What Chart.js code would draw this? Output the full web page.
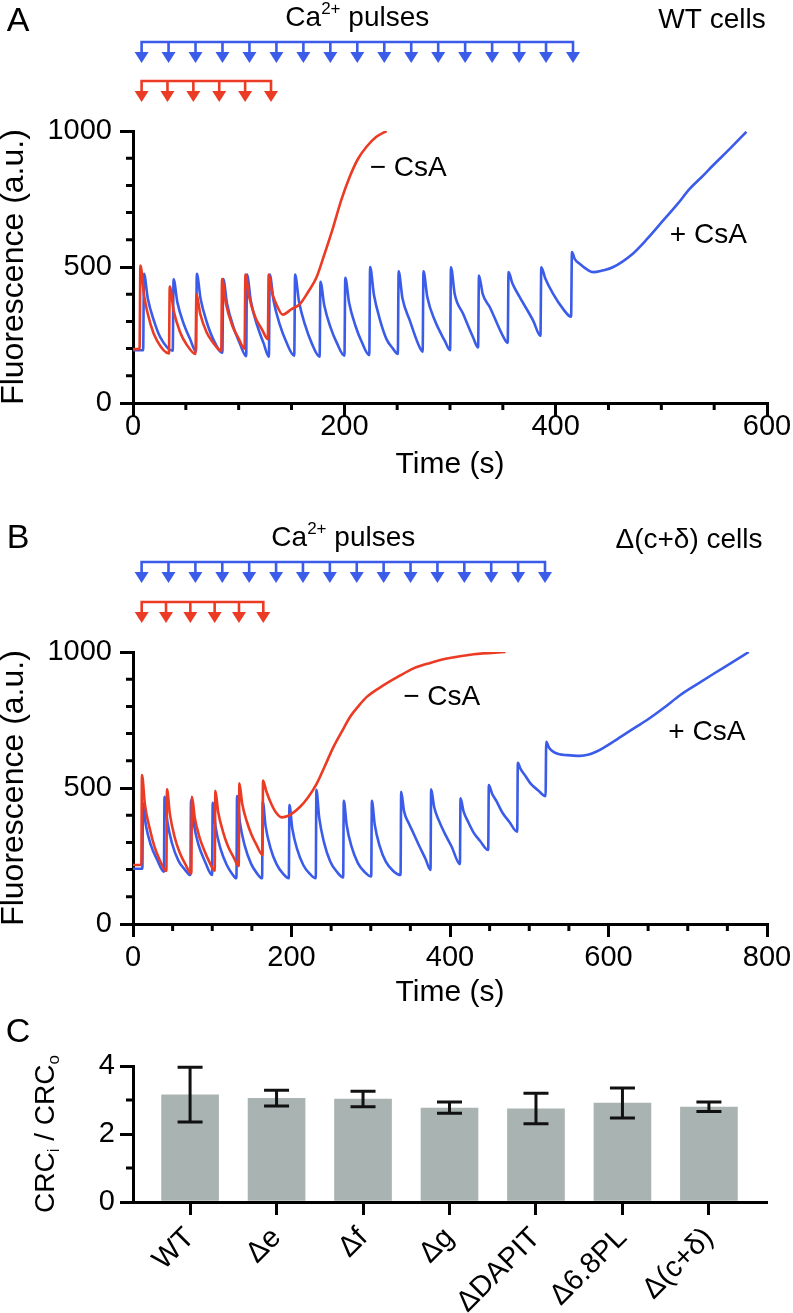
<!DOCTYPE html>
<html lang="en">
<head>
<meta charset="utf-8">
<title>Ca2+ retention capacity</title>
<script src="https://cdn.jsdelivr.net/npm/chart.js@4.4.1/dist/chart.umd.min.js"></script>
<style>
  html, body { margin: 0; padding: 0; background: #fff; }
  .panel { position: absolute; left: 0; width: 793px; }
  canvas { display: block; }
</style>
</head>
<body>
<div class="panel" style="top:0"><canvas id="chartA" width="793" height="480"></canvas></div>
<div class="panel" style="top:480px"><canvas id="chartB" width="793" height="530"></canvas></div>
<div class="panel" style="top:1010px"><canvas id="chartC" width="793" height="303"></canvas></div>
<script>
const FONT = '"Liberation Sans", Arial, Helvetica, sans-serif';
Chart.defaults.font.family = FONT;
Chart.defaults.color = '#000';

const BLUE = '#3b5ce9';
const RED = '#ec3b24';
const GRAY = '#a9b3b1';

// pulse times (s), one arrow per pulse
const wtPulsesPlus = [10, 38, 60, 85, 107.5, 129, 153, 177, 200.5, 224, 251, 274.5, 300.5, 327, 355, 386, 415];
const wtPulsesMinus = [6.6, 34.4, 59.6, 83.9, 106, 128];
const dcPulsesPlus = [12.2, 39.4, 72.8, 100.2, 130.9, 163.3, 197, 231, 265.6, 301, 338, 375.8, 412.9, 448.6, 485.2, 521];
const dcPulsesMinus = [10.9, 42.5, 74, 103.5, 133.8, 163.7];

// panel A, WT cells: [time (s), fluorescence (a.u.)]
const wtPlusCsA = [
  [0, 194], [9.6, 194], [10.4, 475], [14, 384], [20, 300], [26, 240], [37.6, 192],
  [38.4, 455], [42, 370], [48, 291], [54, 235], [59.6, 190],
  [60.4, 475], [64, 382], [70, 295], [76, 234], [84.6, 185],
  [85.4, 456], [89, 365], [95, 280], [101, 220], [107.1, 172],
  [107.9, 472], [111.5, 375], [117.5, 285], [123.5, 221], [128.6, 170],
  [129.4, 472], [133, 377], [139, 287], [145, 225], [152.6, 174],
  [153.4, 472], [157, 375], [163, 285], [169, 221], [176.6, 170],
  [177.4, 446], [181, 359], [187, 277], [193, 220], [200.1, 174],
  [200.9, 460], [204.5, 369], [210.5, 284], [216.5, 224], [223.6, 176],
  [224.4, 500], [228, 398], [234, 302], [240, 234], [246, 200], [250.6, 180],
  [251.4, 484], [255, 385], [262, 303], [270, 216], [274.1, 189],
  [274.9, 484], [278.5, 390], [285.7, 303], [295, 229], [300.1, 194],
  [300.9, 499], [304.5, 400], [312.5, 327], [322, 240], [326.6, 204],
  [327.4, 469], [331, 400], [337.7, 352], [350, 247], [354.6, 221],
  [355.4, 481], [359, 440], [366, 389], [378.7, 303], [385.6, 247],
  [386.4, 499], [390, 460], [397.6, 401], [407, 346], [414.6, 317],
  [415.4, 555], [418, 530], [423, 511], [430, 490], [435.5, 481], [445, 488], [454, 499],
  [473, 549], [487, 605], [502, 672], [515, 730], [527, 788], [538, 830], [549, 874],
  [565, 935], [580.5, 997]
];
const wtMinusCsA = [
  [0, 198], [6.2, 198], [7, 505], [10.6, 392], [16.6, 289], [22.6, 230], [34, 182],
  [34.8, 428], [38.4, 341], [44.4, 262], [50.4, 217], [59.2, 180],
  [60, 401], [63.6, 328], [69.6, 260], [75.6, 223], [83.5, 191],
  [84.3, 456], [87.9, 366], [93.9, 285], [99.9, 238], [105.6, 200],
  [106.4, 472], [110, 389], [116, 313], [122, 271], [127.6, 235],
  [128.4, 472], [132, 400], [136, 360], [141.6, 325], [150, 345], [158, 364], [166, 410],
  [173.7, 462], [181, 545], [189.5, 647], [197, 745], [205, 831], [213, 898], [221, 942],
  [230, 978], [240, 1000]
];

// panel B, Δ(c+δ) cells
const dcPlusCsA = [
  [0, 203], [11.8, 203], [12.6, 445], [16.2, 364], [22.2, 293], [30.2, 238], [39, 192],
  [39.8, 468], [43.4, 376], [49.4, 295], [57.4, 232], [65.4, 200], [72.4, 180],
  [73.2, 455], [76.8, 367], [82.8, 290], [90.8, 230], [99.8, 180],
  [100.6, 446], [104.2, 357], [110.2, 279], [118.2, 218], [125, 185], [130.5, 168],
  [131.3, 470], [134.9, 373], [140.9, 289], [148.9, 222], [156, 188], [162.9, 168],
  [163.7, 450], [167.3, 360], [173.3, 281], [181.3, 219], [189, 186], [196.6, 168],
  [197.4, 437], [201, 351], [207, 276], [215, 216], [223, 185], [230.6, 168],
  [231.4, 493], [235, 390], [241, 300], [249, 229], [257, 193], [265.2, 171],
  [266, 453], [269.6, 364], [275.6, 286], [283.6, 225], [292, 192], [300.6, 175],
  [301.4, 453], [305, 366], [311, 289], [319, 229], [328, 196], [337.6, 180],
  [338.4, 486], [342, 415], [348, 370], [354, 333], [362, 282], [369, 240], [375.4, 199],
  [376.2, 495], [380, 430], [386, 380], [393, 335], [402, 285], [412.5, 220],
  [413.3, 462], [417, 415], [423, 375], [430, 335], [438, 305], [448.2, 272],
  [449, 511], [453, 480], [459, 450], [466, 410], [475, 375], [484.8, 339],
  [485.6, 593], [489, 570], [495, 545], [502, 515], [511, 492], [520.6, 470],
  [521.4, 670], [525, 648], [531, 632], [538, 624], [547.6, 621], [556, 619], [564, 618],
  [574, 622], [585, 634], [595, 650], [606, 670], [627, 710], [648.6, 750], [670, 795],
  [690.7, 842], [712, 882], [732.7, 920], [755, 960], [777, 1000]
];
const dcMinusCsA = [
  [0, 217], [10.5, 217], [11.3, 548], [15, 440], [21.5, 346], [27, 285], [33, 240], [42.1, 195],
  [42.9, 495], [46.5, 405], [52.5, 320], [59, 262], [66, 220], [73.6, 186],
  [74.4, 468], [78, 390], [84, 318], [90, 270], [96, 230], [103.1, 196],
  [103.9, 490], [107.5, 412], [113.5, 340], [120, 285], [127, 245], [133.4, 213],
  [134.2, 517], [137.8, 442], [143.8, 375], [150, 325], [156, 290], [163.3, 254],
  [164.1, 527], [168, 490], [174, 445], [180, 412], [187.7, 392], [196, 398], [210.9, 431],
  [221, 466], [232, 517], [242, 580], [253, 651], [264, 710], [274, 762], [285, 803],
  [295, 835], [312, 870], [335, 910], [354, 940], [375, 960], [396, 976], [430, 992], [470, 1000]
];

// panel C
const strains = ['WT', 'Δe', 'Δf', 'Δg', 'ΔDAPIT', 'Δ6.8PL', 'Δ(c+δ)'];
const crcRatio = [3.15, 3.05, 3.03, 2.76, 2.74, 2.91, 2.79];
const crcLow = [2.35, 2.82, 2.80, 2.61, 2.30, 2.47, 2.66];
const crcHigh = [3.96, 3.29, 3.26, 2.94, 3.20, 3.35, 2.94];

// minor tick positions
const minorTimeA = [50, 100, 150, 250, 300, 350, 450, 500, 550];
const minorTimeB = [50, 100, 150, 250, 300, 350, 450, 500, 550, 650, 700, 750];
const minorFluo = [100, 200, 300, 400, 600, 700, 800, 900];
const minorRatio = [1, 3];

const toXY = pts => pts.map(([x, y]) => ({ x, y }));

const axisGrid = {
  drawOnChartArea: false,
  drawTicks: true,
  tickLength: 13,
  lineWidth: 3,
  tickWidth: 3,
  color: '#000',
  tickColor: '#000'
};
const axisBorder = { display: true, color: '#000', width: 3 };
const plainNumber = v => String(v);

function drawText(ctx, text, x, y, size, align) {
  ctx.font = `${size}px ${FONT}`;
  ctx.textAlign = align || 'left';
  ctx.textBaseline = 'middle';
  ctx.fillStyle = '#000';
  ctx.fillText(text, x, y);
}

// "Ca2+ pulses" with a raised charge
function drawPulsesTitle(ctx, cx, cy, size) {
  const big = `${size}px ${FONT}`;
  const small = `${Math.round(size * 0.6)}px ${FONT}`;
  ctx.font = big;
  const wCa = ctx.measureText('Ca').width;
  const wRest = ctx.measureText(' pulses').width;
  ctx.font = small;
  const wSup = ctx.measureText('2+').width;
  let x = cx - (wCa + wSup + wRest) / 2;
  ctx.textAlign = 'left';
  ctx.textBaseline = 'middle';
  ctx.fillStyle = '#000';
  ctx.font = big;
  ctx.fillText('Ca', x, cy);
  x += wCa;
  ctx.font = small;
  ctx.fillText('2+', x, cy - size * 0.3);
  x += wSup;
  ctx.font = big;
  ctx.fillText(' pulses', x, cy);
}

function drawArrowRow(ctx, row) {
  const step = (row.x1 - row.x0) / (row.n - 1);
  ctx.strokeStyle = row.color;
  ctx.fillStyle = row.color;
  ctx.lineWidth = 2.6;
  ctx.beginPath();
  ctx.moveTo(row.x0 - 1.3, row.y);
  ctx.lineTo(row.x1 + 1.3, row.y);
  for (let i = 0; i < row.n; i++) {
    const x = row.x0 + i * step;
    ctx.moveTo(x, row.y);
    ctx.lineTo(x, row.y + 12);
  }
  ctx.stroke();
  for (let i = 0; i < row.n; i++) {
    const x = row.x0 + i * step;
    ctx.beginPath();
    ctx.moveTo(x - 7, row.y + 10);
    ctx.lineTo(x + 7, row.y + 10);
    ctx.lineTo(x, row.y + 21);
    ctx.closePath();
    ctx.fill();
  }
}

const axisMinorTicks = (xs, ys) => ({
  id: 'axisMinorTicks',
  afterDraw(chart) {
    const { ctx, chartArea, scales } = chart;
    ctx.save();
    ctx.strokeStyle = '#000';
    ctx.lineWidth = 3;
    ctx.beginPath();
    xs.forEach(v => {
      const px = scales.x.getPixelForValue(v);
      ctx.moveTo(px, chartArea.bottom);
      ctx.lineTo(px, chartArea.bottom + 7);
    });
    ys.forEach(v => {
      const py = scales.y.getPixelForValue(v);
      ctx.moveTo(chartArea.left - 7, py);
      ctx.lineTo(chartArea.left, py);
    });
    ctx.stroke();
    ctx.restore();
  }
});

const panelDecor = cfg => ({
  id: 'panelDecor',
  afterDraw(chart) {
    const { ctx, scales } = chart;
    ctx.save();
    drawText(ctx, cfg.letter, 18, cfg.letterY, 34, 'center');
    if (cfg.rows) {
      const blue = cfg.rows[0];
      drawPulsesTitle(ctx, (blue.x0 + blue.x1) / 2, cfg.titleY, 28);
      cfg.rows.forEach(r => drawArrowRow(ctx, r));
    }
    if (cfg.cells) drawText(ctx, cfg.cells, cfg.cellsX, cfg.titleY + 2, 28, 'center');
    (cfg.notes || []).forEach(n => {
      drawText(ctx, n.text, scales.x.getPixelForValue(n.t), scales.y.getPixelForValue(n.f), 28, 'left');
    });
    ctx.restore();
  }
});

function traceChart(canvasId, cfg) {
  return new Chart(document.getElementById(canvasId), {
    type: 'line',
    data: {
      datasets: [
        { label: '− CsA', data: toXY(cfg.minus), borderColor: RED },
        { label: '+ CsA', data: toXY(cfg.plus), borderColor: BLUE }
      ]
    },
    options: {
      responsive: false,
      animation: false,
      events: [],
      layout: { padding: { top: cfg.top, right: 26, bottom: 0, left: 0 } },
      elements: {
        point: { radius: 0 },
        line: { borderWidth: 2.6, cubicInterpolationMode: 'monotone', fill: false }
      },
      plugins: { legend: { display: false }, tooltip: { enabled: false } },
      scales: {
        x: {
          type: 'linear',
          min: 0,
          max: cfg.xMax,
          ticks: { stepSize: 200, callback: plainNumber, padding: cfg.xTickPad, font: { size: 29, lineHeight: 1 } },
          grid: axisGrid,
          border: axisBorder,
          title: {
            display: true,
            text: 'Time (s)',
            font: { size: 30, lineHeight: 1 },
            padding: { top: 0, bottom: cfg.xTitlePad }
          },
          afterFit: s => { s.height = cfg.xBox; s.paddingLeft = 0; s.paddingRight = 0; }
        },
        y: {
          min: 0,
          max: 1000,
          ticks: { stepSize: 500, callback: plainNumber, padding: 8, font: { size: 29, lineHeight: 1 } },
          grid: axisGrid,
          border: axisBorder,
          title: {
            display: true,
            text: 'Fluorescence (a.u.)',
            font: { size: 32, lineHeight: 1 },
            padding: { top: -2, bottom: 0 }
          },
          afterFit: s => { s.width = 133; s.paddingTop = 0; s.paddingBottom = 0; }
        }
      }
    },
    plugins: [axisMinorTicks(cfg.minorX, minorFluo), panelDecor(cfg.decor)]
  });
}

traceChart('chartA', {
  plus: wtPlusCsA,
  minus: wtMinusCsA,
  xMax: 600,
  top: 131,
  xBox: 77,
  xTickPad: -4,
  xTitlePad: 0,
  minorX: minorTimeA,
  decor: {
    letter: 'A',
    letterY: 22,
    titleY: 18,
    cells: 'WT cells',
    cellsX: 712,
    rows: [
      { color: BLUE, n: wtPulsesPlus.length, x0: 141.6, x1: 573, y: 42 },
      { color: RED, n: wtPulsesMinus.length, x0: 141.6, x1: 271, y: 81 }
    ],
    notes: [
      { text: '\u2212 CsA', t: 224, f: 863 },
      { text: '+ CsA', t: 508, f: 616 }
    ]
  }
});

traceChart('chartB', {
  plus: dcPlusCsA,
  minus: dcMinusCsA,
  xMax: 800,
  top: 172,
  xBox: 86,
  xTickPad: 6,
  xTitlePad: 2,
  minorX: minorTimeB,
  decor: {
    letter: 'B',
    letterY: 59,
    titleY: 58,
    cells: 'Δ(c+δ) cells',
    cellsX: 689,
    rows: [
      { color: BLUE, n: dcPulsesPlus.length, x0: 141.6, x1: 545, y: 82 },
      { color: RED, n: dcPulsesMinus.length, x0: 141.7, x1: 263.3, y: 122 }
    ],
    notes: [
      { text: '\u2212 CsA', t: 341, f: 835 },
      { text: '+ CsA', t: 675.5, f: 706 }
    ]
  }
});

const errorBars = {
  id: 'errorBars',
  afterDatasetsDraw(chart) {
    const { ctx, scales: { x, y } } = chart;
    ctx.save();
    ctx.strokeStyle = '#111';
    ctx.lineWidth = 3;
    strains.forEach((_, i) => {
      const px = x.getPixelForValue(i);
      const lo = y.getPixelForValue(crcLow[i]);
      const hi = y.getPixelForValue(crcHigh[i]);
      ctx.beginPath();
      ctx.moveTo(px, lo);
      ctx.lineTo(px, hi);
      ctx.moveTo(px - 12.5, lo);
      ctx.lineTo(px + 12.5, lo);
      ctx.moveTo(px - 12.5, hi);
      ctx.lineTo(px + 12.5, hi);
      ctx.stroke();
    });
    ctx.restore();
  }
};

// y title with subscripts: CRCi / CRCo
const crcTitle = {
  id: 'crcTitle',
  afterDraw(chart) {
    const { ctx, chartArea } = chart;
    const size = 28;
    const sub = Math.round(size * 0.62);
    const parts = [
      ['CRC', size, 0], ['i', sub, 0.3 * size], [' / CRC', size, 0], ['o', sub, 0.3 * size]
    ];
    ctx.save();
    ctx.translate(46, (chartArea.top + chartArea.bottom) / 2);
    ctx.rotate(-Math.PI / 2);
    ctx.textAlign = 'left';
    ctx.textBaseline = 'middle';
    ctx.fillStyle = '#000';
    let total = 0;
    parts.forEach(([t, s]) => { ctx.font = `${s}px ${FONT}`; total += ctx.measureText(t).width; });
    let x = -total / 2;
    parts.forEach(([t, s, dy]) => {
      ctx.font = `${s}px ${FONT}`;
      ctx.fillText(t, x, dy);
      x += ctx.measureText(t).width;
    });
    ctx.restore();
  }
};

new Chart(document.getElementById('chartC'), {
  type: 'bar',
  data: {
    datasets: [{
      data: crcRatio.map((v, i) => ({ x: i, y: v })),
      backgroundColor: GRAY,
      borderWidth: 0,
      barThickness: 57
    }]
  },
  options: {
    responsive: false,
    animation: false,
    events: [],
    layout: { padding: { top: 56, right: 27, bottom: 0, left: 0 } },
    plugins: { legend: { display: false }, tooltip: { enabled: false } },
    scales: {
      x: {
        type: 'linear',
        min: -0.66,
        max: 6.66,
        offset: false,
        afterBuildTicks: s => { s.ticks = strains.map((_, i) => ({ value: i })); },
        ticks: {
          callback: v => strains[v],
          autoSkip: false,
          minRotation: 45,
          maxRotation: 45,
          padding: 6,
          font: { size: 29 }
        },
        grid: { ...axisGrid, offset: false },
        border: { ...axisBorder, z: 1 },
        afterFit: s => { s.height = 111; s.paddingLeft = 0; s.paddingRight = 0; }
      },
      y: {
        min: 0,
        max: 4,
        ticks: { stepSize: 2, padding: 5, font: { size: 29, lineHeight: 1 } },
        grid: axisGrid,
        border: axisBorder,
        afterFit: s => { s.width = 133; s.paddingTop = 0; s.paddingBottom = 0; }
      }
    }
  },
  plugins: [errorBars, axisMinorTicks([], minorRatio), panelDecor({ letter: 'C', letterY: 23 }), crcTitle]
});
</script>
</body>
</html>
